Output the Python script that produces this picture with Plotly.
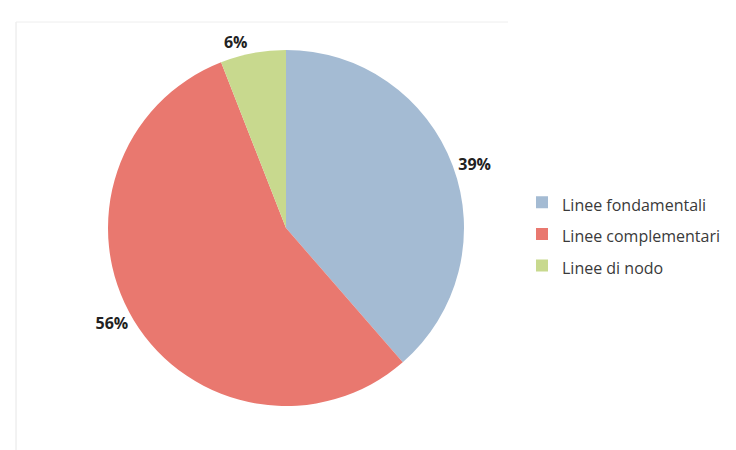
import plotly.graph_objects as go

categories = ["Linee fondamentali", "Linee complementari", "Linee di nodo"]
values = [39, 56, 6]
colors = ["#A4BBD3", "#E9786F", "#C8D98E"]

W, H = 736, 450
cx, cy, r = 278, 220, 178

legend_labels = [f"<span style='font-size:16px'>{c}</span>" for c in categories]

fig = go.Figure(go.Pie(
    labels=legend_labels,
    values=values,
    sort=False,
    direction="clockwise",
    rotation=0,
    marker=dict(colors=colors, line=dict(width=0)),
    texttemplate="<b>%{value}%</b>",
    textposition="outside",
    outsidetextfont=dict(family="Open Sans", size=16, color="#222222"),
    hoverinfo="label+value",
    domain=dict(x=[(cx - r) / W, (cx + r) / W],
                y=[(H - cy - r) / H, (H - cy + r) / H]),
    automargin=False,
))

fig.update_layout(
    width=W, height=H,
    margin=dict(l=0, r=0, t=0, b=0),
    paper_bgcolor="white",
    plot_bgcolor="white",
    showlegend=True,
    legend=dict(
        x=514 / W, y=(H - 226) / H, xanchor="left", yanchor="middle",
        font=dict(family="Open Sans", size=22, color="#3A3A3A"),
        itemsizing="constant", tracegroupgap=0,
        bgcolor="rgba(0,0,0,0)",
    ),
    shapes=[
        dict(type="line", xref="paper", yref="paper", x0=8 / W, x1=8 / W,
             y0=0, y1=(H - 14) / H, line=dict(color="#E6E6E6", width=1)),
        dict(type="line", xref="paper", yref="paper", x0=8 / W, x1=500 / W,
             y0=(H - 14) / H, y1=(H - 14) / H, line=dict(color="#EEEEEE", width=1)),
    ],
)

fig.write_html("out.html")
